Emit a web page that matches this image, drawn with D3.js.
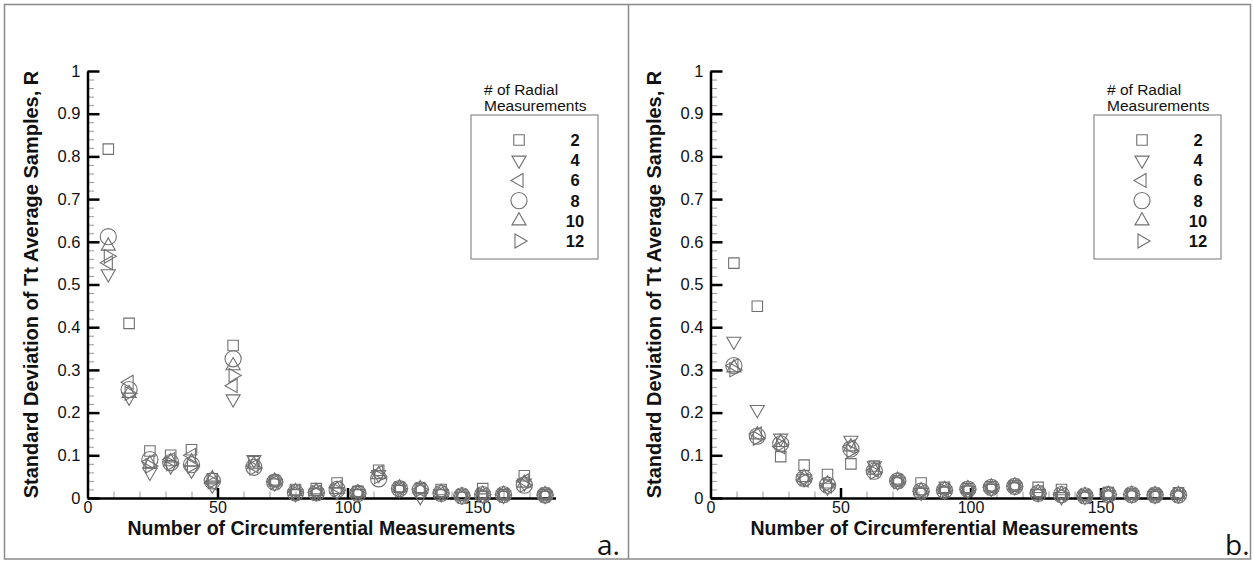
<!DOCTYPE html>
<html>
<head>
<meta charset="utf-8">
<script src="https://cdn.jsdelivr.net/npm/d3@7"></script>
<style>
  html, body { margin: 0; padding: 0; background: #fff; }
  svg { display: block; font-family: "Liberation Sans", Arial, sans-serif; }
</style>
</head>
<body>
<svg id="chart" width="1254" height="563"></svg>
<script>
// ---------------- data ----------------
const radialLabels = ["2", "4", "6", "8", "10", "12"];
const yTicks = [0, 0.1, 0.2, 0.3, 0.4, 0.5, 0.6, 0.7, 0.8, 0.9, 1];
const xTicks = [0, 50, 100, 150];

// panel a: circumferential counts
const circA = [8, 16, 24, 32, 40, 48, 56, 64, 72, 80, 88, 96, 104, 112, 120, 128, 136, 144, 152, 160, 168, 176];
const a_R2  = [0.817, 0.409, 0.110, 0.100, 0.113, 0.045, 0.357, 0.085, 0.040, 0.020, 0.022, 0.035, 0.015, 0.065, 0.025, 0.022, 0.020, 0.007, 0.022, 0.008, 0.052, 0.008];
const a_R4  = [0.525, 0.236, 0.060, 0.075, 0.065, 0.030, 0.232, 0.090, 0.035, 0.010, 0.012, 0.015, 0.010, 0.055, 0.020, 0.003, 0.010, 0.004, 0.006, 0.006, 0.035, 0.006];
const a_R6  = [0.551, 0.271, 0.085, 0.090, 0.100, 0.035, 0.263, 0.075, 0.038, 0.014, 0.013, 0.025, 0.012, 0.060, 0.022, 0.020, 0.012, 0.005, 0.008, 0.008, 0.040, 0.007];
const a_R8  = [0.612, 0.254, 0.090, 0.083, 0.078, 0.040, 0.326, 0.072, 0.037, 0.012, 0.012, 0.020, 0.011, 0.045, 0.022, 0.019, 0.011, 0.005, 0.008, 0.008, 0.030, 0.007];
const a_R10 = [0.590, 0.245, 0.080, 0.085, 0.085, 0.045, 0.310, 0.078, 0.040, 0.015, 0.015, 0.020, 0.013, 0.055, 0.024, 0.022, 0.013, 0.006, 0.009, 0.009, 0.035, 0.008];
const a_R12 = [0.566, 0.245, 0.075, 0.080, 0.075, 0.038, 0.287, 0.070, 0.036, 0.013, 0.012, 0.018, 0.011, 0.050, 0.021, 0.020, 0.011, 0.005, 0.008, 0.007, 0.030, 0.007];

// panel b
const circB = [9, 18, 27, 36, 45, 54, 63, 72, 81, 90, 99, 108, 117, 126, 135, 144, 153, 162, 171, 180];
const b_R2  = [0.550, 0.449, 0.097, 0.077, 0.055, 0.080, 0.075, 0.040, 0.035, 0.025, 0.022, 0.026, 0.028, 0.025, 0.020, 0.006, 0.013, 0.009, 0.008, 0.012];
const b_R4  = [0.367, 0.207, 0.140, 0.045, 0.025, 0.135, 0.075, 0.038, 0.013, 0.016, 0.018, 0.022, 0.026, 0.010, 0.003, 0.004, 0.007, 0.007, 0.006, 0.007];
const b_R6  = [0.310, 0.150, 0.120, 0.042, 0.028, 0.120, 0.065, 0.040, 0.015, 0.018, 0.020, 0.025, 0.028, 0.012, 0.008, 0.005, 0.008, 0.008, 0.007, 0.008];
const b_R8  = [0.310, 0.145, 0.127, 0.046, 0.030, 0.115, 0.063, 0.040, 0.016, 0.018, 0.021, 0.025, 0.027, 0.011, 0.008, 0.005, 0.008, 0.008, 0.007, 0.007];
const b_R10 = [0.305, 0.148, 0.130, 0.048, 0.033, 0.120, 0.065, 0.042, 0.017, 0.020, 0.022, 0.026, 0.029, 0.013, 0.009, 0.006, 0.009, 0.009, 0.008, 0.008];
const b_R12 = [0.300, 0.140, 0.125, 0.045, 0.030, 0.110, 0.060, 0.038, 0.014, 0.017, 0.020, 0.024, 0.027, 0.011, 0.008, 0.005, 0.008, 0.008, 0.007, 0.007];

// ---------------- drawing ----------------
const svg = d3.select("#chart");
const MARK = "#707070";

// outer frame and divider
svg.append("rect").attr("x", 4.5).attr("y", 4.5).attr("width", 1246).attr("height", 554.5)
  .attr("fill", "none").attr("stroke", "#8a8a8a").attr("stroke-width", 1.5);
svg.append("line").attr("x1", 628.5).attr("x2", 628.5).attr("y1", 4).attr("y2", 559)
  .attr("stroke", "#8a8a8a").attr("stroke-width", 1.5);

// marker shapes: [d3 symbol type, rotation, area]
const markerDefs = [
  { type: d3.symbolSquare,   rot: 0,   size: 110 },
  { type: d3.symbolTriangle, rot: 180, size: 86 },
  { type: d3.symbolTriangle, rot: -90, size: 84 },
  { type: d3.symbolCircle,   rot: 0,   size: 205 },
  { type: d3.symbolTriangle, rot: 0,   size: 86 },
  { type: d3.symbolTriangle, rot: 90,  size: 84 }
];

function drawPanel(dx, circ, seriesList, tag) {
  const g = svg.append("g").attr("transform", `translate(${dx},0)`);
  const x = d3.scaleLinear().domain([0, 180]).range([87.5, 555.5]);
  const y = d3.scaleLinear().domain([0, 1]).range([498, 71]);

  // minor ticks
  const yMinor = d3.range(0, 1.0001, 0.02).filter(v => Math.abs(v * 10 - Math.round(v * 10)) > 1e-6);
  const xMinor = d3.range(10, 180, 10).filter(v => v % 50 !== 0);
  g.append("g").attr("transform", `translate(${x(0)},0)`)
    .call(d3.axisLeft(y).tickValues(yMinor).tickSizeInner(-6.5).tickSizeOuter(0).tickFormat(""))
    .call(s => s.select(".domain").remove())
    .call(s => s.selectAll("line").attr("stroke", "#9a9a9a").attr("stroke-width", 1));
  g.append("g").attr("transform", `translate(0,${y(0)})`)
    .call(d3.axisBottom(x).tickValues(xMinor).tickSizeInner(-6.5).tickSizeOuter(0).tickFormat(""))
    .call(s => s.select(".domain").remove())
    .call(s => s.selectAll("line").attr("stroke", "#9a9a9a").attr("stroke-width", 1));

  // major axes
  const yAx = g.append("g").attr("transform", `translate(${x(0)},0)`)
    .call(d3.axisLeft(y).tickValues(yTicks).tickSizeInner(-12).tickSizeOuter(0).tickPadding(7)
      .tickFormat(d => String(+d.toFixed(1))));
  const xAx = g.append("g").attr("transform", `translate(0,${y(0)})`)
    .call(d3.axisBottom(x).tickValues(xTicks).tickSizeInner(-10).tickSizeOuter(0).tickPadding(3.5)
      .tickFormat(d => String(d)));
  [yAx, xAx].forEach(a => {
    a.select(".domain").attr("stroke", "#000").attr("stroke-width", 2.5);
    a.selectAll(".tick line").attr("stroke", "#000").attr("stroke-width", 2.5);
    a.selectAll(".tick text").attr("font-size", 16.5).attr("fill", "#111")
      .attr("font-family", "'Liberation Sans', Arial, sans-serif");
  });
  xAx.selectAll(".tick text").attr("font-size", 16);
  xAx.selectAll(".tick").filter(d => d === 0).select("line").remove();

  // axis titles
  g.append("text").attr("x", (x(0) + x(180)) / 2).attr("y", 534.5)
    .attr("text-anchor", "middle").attr("font-size", 19.5).attr("font-weight", "bold").attr("fill", "#111")
    .text("Number of Circumferential Measurements");
  g.append("text").attr("transform", `translate(38,${(y(0) + y(1)) / 2}) rotate(-90)`)
    .attr("text-anchor", "middle").attr("font-size", 20).attr("font-weight", "bold").attr("fill", "#111")
    .text("Standard Deviation of Tt Average Samples, R");

  // data markers
  seriesList.forEach((vals, i) => {
    const m = markerDefs[i];
    const sym = d3.symbol().type(m.type).size(m.size);
    g.append("g").selectAll("path").data(vals).join("path")
      .attr("d", sym)
      .attr("transform", (v, j) => `translate(${x(circ[j])},${y(v)}) rotate(${m.rot})`)
      .attr("fill", "none").attr("stroke", MARK).attr("stroke-width", 1.1);
  });

  // legend
  g.append("text").attr("x", 484).attr("y", 95).attr("font-size", 15.5).attr("fill", "#111").text("# of Radial");
  g.append("text").attr("x", 484).attr("y", 111).attr("font-size", 15.5).attr("fill", "#111").text("Measurements");
  g.append("rect").attr("x", 471).attr("y", 115).attr("width", 127).attr("height", 144)
    .attr("fill", "none").attr("stroke", "#8a8a8a").attr("stroke-width", 1.2);
  const ly = d3.scalePoint().domain(radialLabels).range([140, 241]);
  radialLabels.forEach((lab, i) => {
    const m = markerDefs[i];
    g.append("path").attr("d", d3.symbol().type(m.type).size(m.size)())
      .attr("transform", `translate(519,${ly(lab)}) rotate(${m.rot})`)
      .attr("fill", "none").attr("stroke", MARK).attr("stroke-width", 1.1);
    g.append("text").attr("x", 575).attr("y", ly(lab) + 6).attr("text-anchor", "middle")
      .attr("font-size", 16.5).attr("font-weight", "bold").attr("fill", "#111").text(lab);
  });

  // panel tag
  g.append("text").attr("x", tag === "a." ? 597 : 602).attr("y", 555).attr("font-size", 28)
    .attr("font-family", "'Open Sans', 'Liberation Sans', sans-serif").attr("fill", "#111").text(tag);
}

drawPanel(0, circA, [a_R2, a_R4, a_R6, a_R8, a_R10, a_R12], "a.");
drawPanel(623, circB, [b_R2, b_R4, b_R6, b_R8, b_R10, b_R12], "b.");
</script>
</body>
</html>
